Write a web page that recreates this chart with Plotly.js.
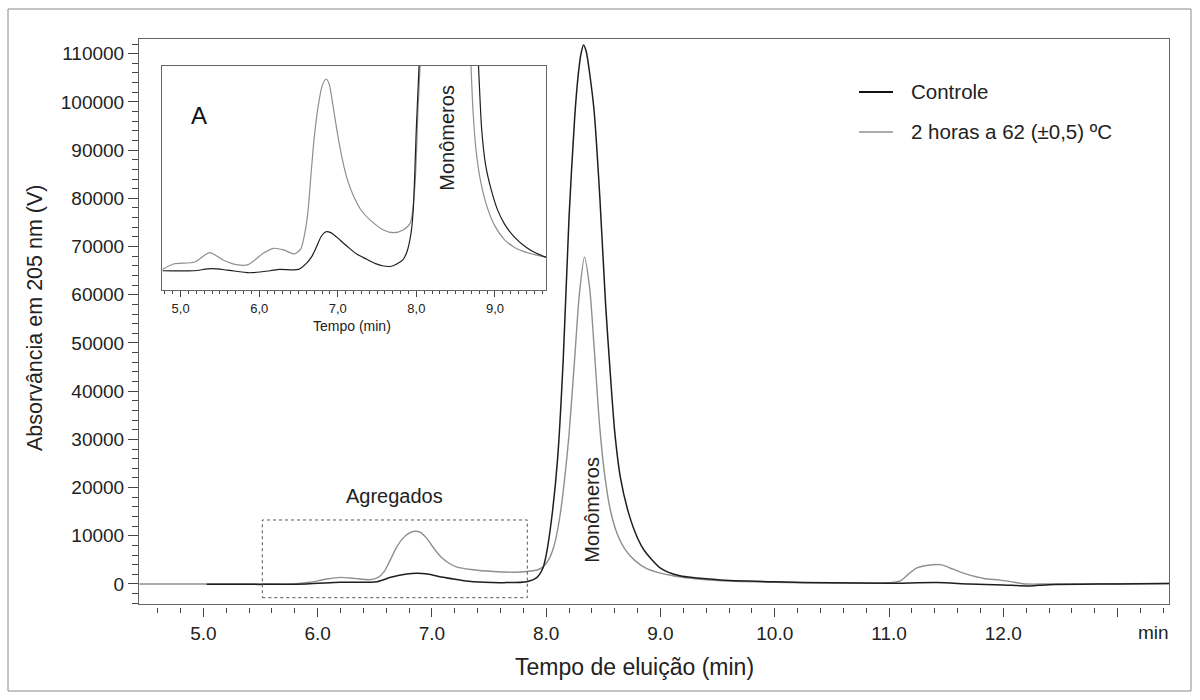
<!DOCTYPE html>
<html>
<head>
<meta charset="utf-8">
<script src="https://cdn.plot.ly/plotly-3.0.1.min.js"></script>
<style>
  html, body { margin: 0; padding: 0; background: #fff; }
  #chart { width: 1200px; height: 700px; }
</style>
</head>
<body>
<div id="chart"></div>
<script>
// ---------- Main chromatogram (Absorvância em 205 nm) ----------
const ctrlTime = [5.03, 5.5, 5.9, 6.2, 6.52, 6.64, 6.78, 6.87, 6.96, 7.10, 7.28, 7.46, 7.63, 7.83, 7.92, 7.97, 8.0, 8.05, 8.10, 8.15, 8.20, 8.25, 8.28, 8.305, 8.327, 8.35, 8.38, 8.42, 8.47, 8.52, 8.56, 8.60, 8.65, 8.72, 8.80, 8.86, 9.0, 9.17, 9.5, 10.0, 10.5, 11.0, 11.42, 11.7, 12.0, 12.23, 12.4, 13.0, 13.45];
const ctrlVal  = [-60, -80, 0, 350, 480, 1380, 2070, 2210, 2070, 1380, 690, 350, 280, 480, 1380, 3200, 6000, 14000, 26000, 47000, 76000, 97000, 105500, 110000, 111800, 110500, 106000, 98000, 80000, 58000, 44000, 31500, 22000, 14800, 9500, 6900, 3300, 1700, 900, 450, 250, 150, 300, 0, -200, -400, -140, 0, 100];

const trtTime = [4.44, 5.0, 5.5, 5.79, 5.93, 6.08, 6.20, 6.32, 6.46, 6.53, 6.58, 6.63, 6.69, 6.74, 6.79, 6.85, 6.90, 6.96, 7.02, 7.08, 7.15, 7.22, 7.34, 7.54, 7.74, 7.83, 7.92, 7.97, 8.02, 8.07, 8.12, 8.16, 8.20, 8.25, 8.29, 8.335, 8.38, 8.42, 8.467, 8.51, 8.56, 8.62, 8.69, 8.78, 8.88, 9.11, 9.5, 10.0, 10.5, 10.95, 11.10, 11.17, 11.24, 11.33, 11.46, 11.56, 11.68, 11.83, 11.97, 12.11, 12.2, 12.4, 13.0, 13.45];
const trtVal  = [0, 0, 0, 0, 350, 1040, 1380, 1170, 900, 1380, 2500, 4700, 7600, 9300, 10400, 10950, 10700, 9300, 7300, 5600, 4300, 3500, 3010, 2590, 2450, 2590, 2900, 3500, 5000, 8000, 14000, 21500, 31000, 47000, 60000, 67800, 61500, 49000, 33000, 23000, 15500, 10500, 7200, 4800, 3200, 1700, 700, 350, 200, 200, 650, 2040, 3280, 3830, 3970, 3070, 2040, 1140, 800, 310, 0, 0, 50, 100];

// ---------- Inset A (relative scale, 0-100) ----------
const insCtrlTime = [4.77, 5.16, 5.39, 5.59, 5.88, 6.14, 6.26, 6.50, 6.60, 6.67, 6.73, 6.79, 6.85, 6.91, 6.99, 7.07, 7.15, 7.25, 7.37, 7.48, 7.58, 7.68, 7.75, 7.83, 7.88, 7.93, 7.96, 8.00, 8.04, 8.10, 8.30, 8.50, 8.70, 8.79, 8.83, 8.88, 8.95, 9.03, 9.12, 9.25, 9.40, 9.52, 9.65];
const insCtrlVal  = [8.6, 8.6, 9.5, 8.9, 7.7, 8.6, 9.2, 9.2, 11.9, 15, 19.3, 24, 26, 25.6, 23.5, 21, 18.6, 15.8, 13.7, 11.8, 10.7, 10.6, 11.6, 13.6, 17.1, 25, 35.7, 72.9, 105, 160, 400, 300, 160, 100, 72, 56, 45, 36, 29.5, 23.5, 19, 16.5, 14.6];

const insTrtTime = [4.77, 4.91, 5.18, 5.37, 5.54, 5.71, 5.86, 6.05, 6.18, 6.31, 6.45, 6.53, 6.58, 6.62, 6.66, 6.70, 6.75, 6.80, 6.85, 6.89, 6.94, 7.00, 7.06, 7.12, 7.20, 7.30, 7.41, 7.58, 7.71, 7.83, 7.92, 7.98, 8.02, 8.06, 8.12, 8.30, 8.50, 8.65, 8.695, 8.72, 8.76, 8.82, 8.90, 9.00, 9.12, 9.25, 9.40, 9.65];
const insTrtVal  = [9.2, 11.6, 12.5, 16.7, 13.4, 11.3, 11.3, 16.4, 18.6, 17.9, 16.1, 18.5, 25.3, 35, 52, 68, 82, 91, 94.2, 92, 82, 69, 58, 49.5, 42, 35.5, 31.3, 26.8, 25.6, 26.8, 29.8, 46, 80, 110, 170, 350, 260, 140, 100, 80, 62, 48, 37, 28.5, 22.5, 19, 16.8, 14.6];

// ---------- Labels ----------
const seriesNames = ['Controle', '2 horas a 62 (\u00b10,5) \u00baC'];
const mainTickVals = [5, 6, 7, 8, 9, 10, 11, 12, 13];
const mainTickText = ['5.0', '6.0', '7.0', '8.0', '9.0', '10.0', '11.0', '12.0', ''];
const insTickVals = [5, 6, 7, 8, 9];
const insTickText = ['5,0', '6,0', '7,0', '8,0', '9,0'];

const FONT = 'Liberation Sans, Arial, sans-serif';
const CTRL_COLOR = '#1e1e1e';
const TRT_COLOR = '#8f8f8f';

// pixel -> paper helpers (plot frame: left 139, right 1169; paper bottom 607, top 39)
const px = v => (v - 139) / 1030;
const py = v => (607 - v) / 568;

const traces = [
  { x: trtTime, y: trtVal, name: seriesNames[1], type: 'scatter', mode: 'lines',
    line: { color: TRT_COLOR, width: 1.4, shape: 'spline', smoothing: 0.7 },
    xaxis: 'x', yaxis: 'y', showlegend: false, hoverinfo: 'skip' },
  { x: ctrlTime, y: ctrlVal, name: seriesNames[0], type: 'scatter', mode: 'lines',
    line: { color: CTRL_COLOR, width: 1.5, shape: 'spline', smoothing: 0.7 },
    xaxis: 'x', yaxis: 'y', showlegend: false, hoverinfo: 'skip' },
  { x: insTrtTime, y: insTrtVal, type: 'scatter', mode: 'lines', showlegend: false,
    line: { color: TRT_COLOR, width: 1.2, shape: 'spline', smoothing: 0.7 },
    xaxis: 'x2', yaxis: 'y2', hoverinfo: 'skip' },
  { x: insCtrlTime, y: insCtrlVal, type: 'scatter', mode: 'lines', showlegend: false,
    line: { color: CTRL_COLOR, width: 1.2, shape: 'spline', smoothing: 0.7 },
    xaxis: 'x2', yaxis: 'y2', hoverinfo: 'skip' },
  { x: [], y: [], type: 'scatter', mode: 'lines', showlegend: false,
    xaxis: 'x3', yaxis: 'y', hoverinfo: 'skip' }
];

const xRange = [4.437, 13.45];

// legend drawn as line samples + labels
const legendRows = [
  { name: seriesNames[0], color: '#111', width: 2.2, y: 91 },
  { name: seriesNames[1], color: TRT_COLOR, width: 1.5, y: 131 }
];

const shapes = [
  // outer frame of the figure
  { type: 'rect', xref: 'paper', yref: 'paper', x0: px(8), x1: px(1191), y0: py(691), y1: py(9),
    line: { color: '#8a8a8a', width: 1 }, fillcolor: 'rgba(0,0,0,0)' },
  // dashed "Agregados" box
  { type: 'rect', xref: 'x', yref: 'y', x0: 5.516, x1: 7.835, y0: -2840, y1: 13280,
    line: { color: '#555', width: 1, dash: 'dot' }, fillcolor: 'rgba(0,0,0,0)' }
];
legendRows.forEach(r => shapes.push({
  type: 'line', xref: 'paper', yref: 'paper', x0: px(859), x1: px(893), y0: py(r.y + 1), y1: py(r.y + 1),
  line: { color: r.color, width: r.width }
}));

const annotations = [
  { xref: 'paper', yref: 'paper', x: px(634), y: py(667), text: 'Tempo de elui\u00e7\u00e3o (min)',
    showarrow: false, font: { family: FONT, size: 23, color: '#222' }, xanchor: 'center', yanchor: 'middle' },
  { xref: 'paper', yref: 'paper', x: px(35), y: py(318), text: 'Absorv\u00e2ncia em 205 nm (V)',
    textangle: -90, showarrow: false, font: { family: FONT, size: 21.5, color: '#222' }, xanchor: 'center', yanchor: 'middle' },
  { xref: 'paper', yref: 'paper', x: px(1153), y: py(632), text: 'min',
    showarrow: false, font: { family: FONT, size: 19, color: '#222' }, xanchor: 'center', yanchor: 'middle' },
  { xref: 'paper', yref: 'paper', x: px(394), y: py(496), text: 'Agregados',
    showarrow: false, font: { family: FONT, size: 20, color: '#222' }, xanchor: 'center', yanchor: 'middle' },
  { xref: 'paper', yref: 'paper', x: px(591.7), y: py(510), text: 'Mon\u00f4meros', textangle: -90,
    showarrow: false, font: { family: FONT, size: 20, color: '#222' }, xanchor: 'center', yanchor: 'middle' },
  { xref: 'paper', yref: 'paper', x: px(446.7), y: py(138), text: 'Mon\u00f4meros', textangle: -90,
    showarrow: false, font: { family: FONT, size: 20, color: '#222' }, xanchor: 'center', yanchor: 'middle' },
  { xref: 'paper', yref: 'paper', x: px(199), y: py(115), text: 'A',
    showarrow: false, font: { family: FONT, size: 24, color: '#111' }, xanchor: 'center', yanchor: 'middle' },
  { xref: 'paper', yref: 'paper', x: px(352), y: py(326), text: 'Tempo (min)',
    showarrow: false, font: { family: FONT, size: 14, color: '#222' }, xanchor: 'center', yanchor: 'middle' }
];
legendRows.forEach(r => annotations.push({
  xref: 'paper', yref: 'paper', x: px(909), y: py(r.y), text: r.name, showarrow: false,
  font: { family: FONT, size: 20.5, color: '#222' }, xanchor: 'left', yanchor: 'middle'
}));

const layout = {
  width: 1200, height: 700,
  margin: { l: 139, r: 31, t: 39, b: 93 },
  paper_bgcolor: '#ffffff', plot_bgcolor: '#ffffff',
  font: { family: FONT, color: '#222', size: 19 },
  showlegend: false,
  xaxis: {
    domain: [0, 1], range: xRange, anchor: 'y',
    showline: true, linecolor: '#666', linewidth: 1, mirror: true,
    ticks: '', showticklabels: false, showgrid: false, zeroline: false
  },
  xaxis3: {
    overlaying: 'x', anchor: 'free', position: 0, range: xRange,
    showline: false, showgrid: false, zeroline: false,
    tickmode: 'array', tickvals: mainTickVals, ticktext: mainTickText,
    ticks: 'outside', ticklen: 9, tickwidth: 1, tickcolor: '#444',
    minor: { dtick: 0.2, tick0: 0, ticks: 'outside', ticklen: 5, tickwidth: 1, tickcolor: '#444', showgrid: false },
    tickfont: { family: FONT, size: 19, color: '#222' }
  },
  yaxis: {
    domain: [3 / 568, 1], range: [-4150, 113050], anchor: 'x',
    showline: true, linecolor: '#666', linewidth: 1, mirror: true,
    ticks: 'outside', ticklen: 10, tickwidth: 1, tickcolor: '#444',
    dtick: 10000, tick0: 0, tickformat: 'd',
    minor: { dtick: 2000, tick0: 0, ticks: 'outside', ticklen: 6, tickwidth: 1, tickcolor: '#444', showgrid: false },
    showgrid: false, zeroline: false,
    tickfont: { family: FONT, size: 19, color: '#222' }
  },
  xaxis2: {
    domain: [px(162.3), px(546)], range: [4.767, 9.649], anchor: 'y2',
    showline: true, linecolor: '#666', linewidth: 1, mirror: true,
    tickmode: 'array', tickvals: insTickVals, ticktext: insTickText,
    ticks: 'outside', ticklen: 6, tickwidth: 1, tickcolor: '#444',
    minor: { dtick: 0.1, tick0: 0, ticks: 'outside', ticklen: 3, tickwidth: 1, tickcolor: '#444', showgrid: false },
    showgrid: false, zeroline: false,
    tickfont: { family: FONT, size: 13, color: '#222' }
  },
  yaxis2: {
    domain: [py(290), py(66)], range: [0, 100], anchor: 'x2',
    showline: true, linecolor: '#666', linewidth: 1, mirror: true,
    ticks: '', showticklabels: false, showgrid: false, zeroline: false
  },
  shapes: shapes,
  annotations: annotations
};

Plotly.newPlot('chart', traces, layout, { displayModeBar: false, staticPlot: true });
</script>
</body>
</html>
